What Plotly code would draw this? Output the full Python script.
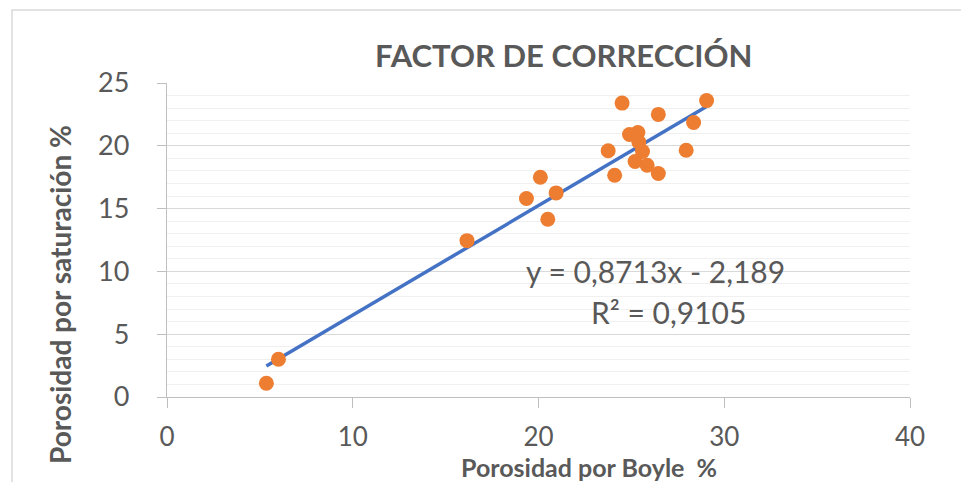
import plotly.graph_objects as go

# Porosidad por Boyle (x) vs Porosidad por saturación (y), in %
boyle = [5.35, 6.0, 16.15, 19.35, 20.1, 20.5, 20.95, 23.75, 24.1, 24.5, 24.9,
         25.35, 25.4, 25.2, 25.6, 25.85, 26.45, 26.45, 27.95, 28.35, 29.05]
saturacion = [1.1, 3.0, 12.45, 15.8, 17.5, 14.15, 16.25, 19.6, 17.65, 23.4, 20.9,
              21.05, 20.3, 18.75, 19.55, 18.45, 17.8, 22.5, 19.65, 21.85, 23.6]

# linear trendline reported on the chart
slope = 0.8713
intercept = -2.189
trend_x = [min(boyle), max(boyle)]
trend_y = [slope * v + intercept for v in trend_x]

FONT = "Lato"
GREY = "#595959"

# the page body adds an 8px offset, so the figure is drawn 8px smaller
OFF = 8
W, H = 969 - OFF, 482 - OFF
# plot area in window pixels
L, R, T, B = 167, 910, 83, 397


def px(x):
    return (x - L) / (R - L)


def py(y):
    return (B - y) / (B - T)


fig = go.Figure()

fig.add_trace(go.Scatter(
    x=trend_x, y=trend_y, mode="lines",
    line=dict(color="#4472C4", width=3.5),
    showlegend=False, hoverinfo="skip",
))

fig.add_trace(go.Scatter(
    x=boyle, y=saturacion, mode="markers",
    marker=dict(color="#ED7D31", size=15),
    showlegend=False,
))

fig.update_xaxes(
    range=[0, 40], tickvals=[0, 10, 20, 30, 40],
    showgrid=False, zeroline=False,
    showline=True, linecolor="#bfbfbf", linewidth=1.3,
    ticks="outside", ticklen=10, tickcolor="#bfbfbf", tickwidth=1.3,
    tickfont=dict(family=FONT, size=26, color=GREY),
    ticklabelstandoff=7,
)
fig.update_yaxes(
    range=[0, 25], tickvals=[0, 5, 10, 15, 20, 25],
    showgrid=True, gridcolor="#d9d9d9", gridwidth=1.3,
    minor=dict(dtick=1, showgrid=True, gridcolor="#f0f0f0", gridwidth=1.3),
    zeroline=False,
    showline=True, linecolor="#bfbfbf", linewidth=1.3,
    ticks="outside", ticklen=9, tickcolor="#bfbfbf", tickwidth=1.3,
    tickfont=dict(family=FONT, size=27, color=GREY),
    ticklabelstandoff=22,
)


def label(text, x, y, size, angle=0):
    fig.add_annotation(
        text=text, xref="paper", yref="paper", x=px(x), y=py(y),
        xanchor="center", yanchor="middle", showarrow=False, textangle=angle,
        font=dict(family=FONT, size=size, color=GREY),
    )


label("<b>FACTOR DE CORRECCIÓN</b>", 563, 55, 31)
label("<b>Porosidad por Boyle  %</b>", 589, 467, 25)
label("<b>Porosidad por saturación %</b>", 60, 295, 28, angle=-90)
label("y = 0,8713x - 2,189", 655, 271, 30)
label("R² = 0,9105", 668, 312, 30)

# chart area border (left and top edges visible)
fig.add_shape(
    type="rect", xref="paper", yref="paper",
    x0=px(12), y0=py(H + 20), x1=px(W + 20), y1=py(10),
    line=dict(color="#d9d9d9", width=1.5), layer="below",
)

fig.update_layout(
    width=W, height=H,
    margin=dict(l=L - OFF, r=W - (R - OFF), t=T - OFF, b=H - (B - OFF)),
    paper_bgcolor="white", plot_bgcolor="white",
    font=dict(family=FONT, color=GREY),
)

fig.write_html("out.html")
